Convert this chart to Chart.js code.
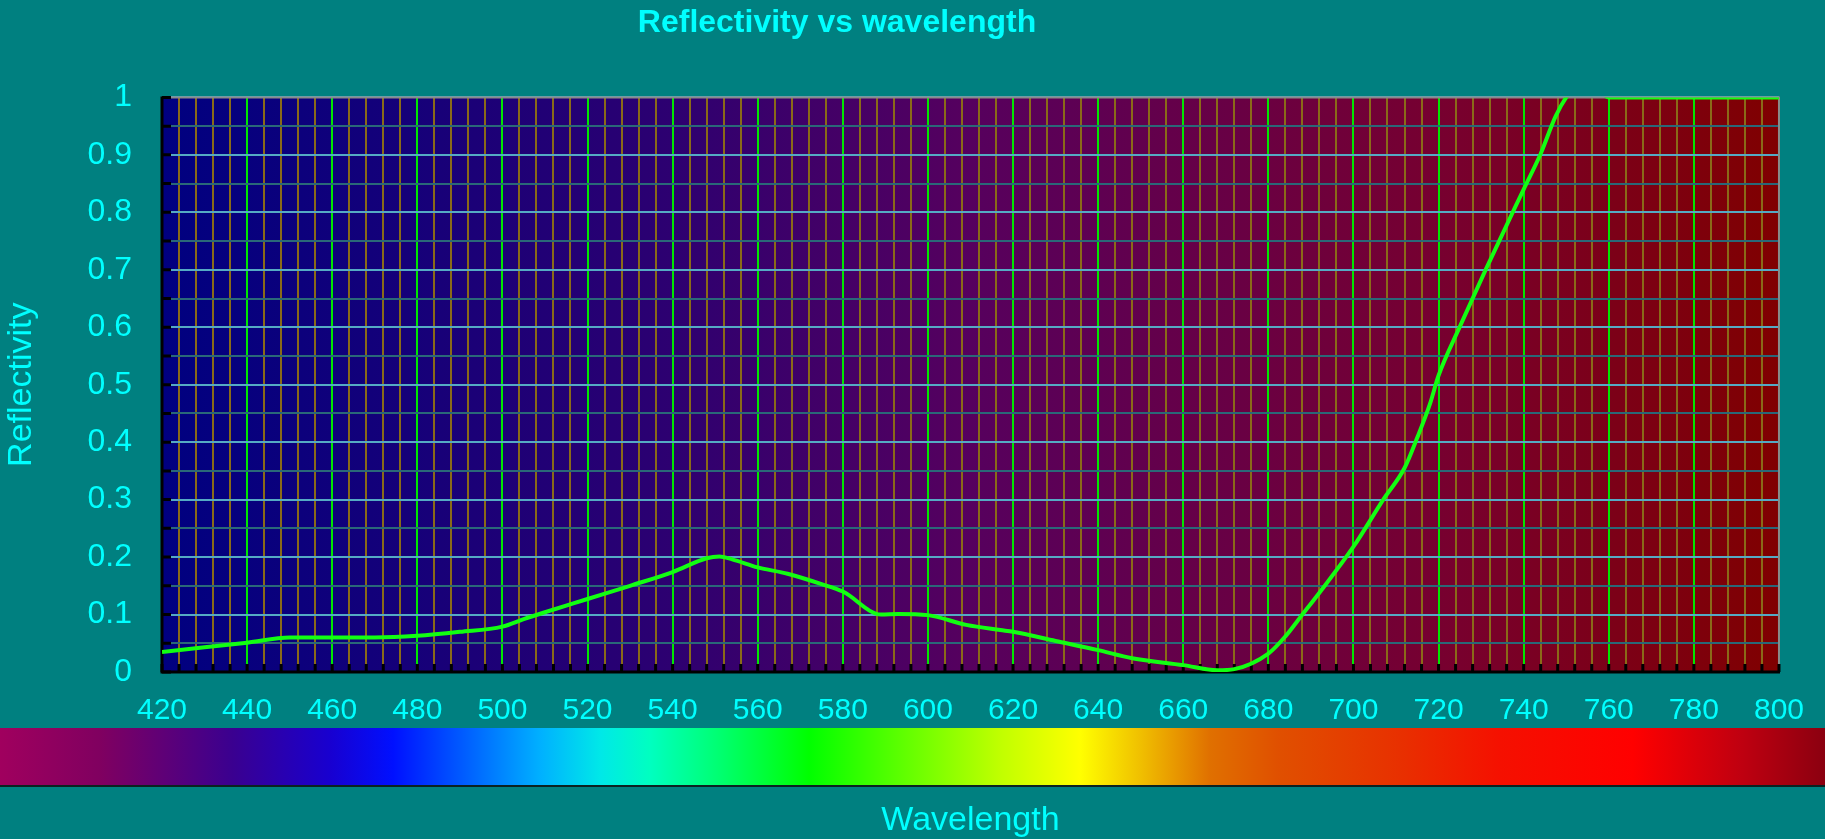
<!DOCTYPE html>
<html>
<head>
<meta charset="utf-8">
<script src="https://cdn.jsdelivr.net/npm/chart.js@4.4.1/dist/chart.umd.min.js"></script>
<style>
html,body{margin:0;padding:0;background:#008080;overflow:hidden}
#wrap{position:relative;width:1825px;height:839px}
canvas{display:block}
</style>
</head>
<body>
<div id="wrap"><canvas id="c" width="1825" height="839"></canvas></div>
<script>
// ---- data ----
const wavelengths = [420,430,440,450,460,470,480,490,500,505,510,520,530,540,548,551,554,560,567,575,580,589,593,600,609,617,620,630,640,648,660,668,672,680,684,688,692,700,707,712,715,718,720,725,731,740,744,747.5,750,755,760,780,800];
const reflectivity = [0.035,0.043,0.051,0.060,0.060,0.060,0.063,0.070,0.079,0.092,0.104,0.127,0.150,0.174,0.198,0.201,0.196,0.182,0.171,0.153,0.140,0.100,0.101,0.099,0.082,0.073,0.070,0.054,0.038,0.024,0.012,0.003,0.005,0.032,0.062,0.100,0.138,0.218,0.300,0.355,0.408,0.467,0.516,0.601,0.699,0.840,0.902,0.967,1.0,1.04,1.0,1.0,1.0];
const xLabelValues = [420,440,460,480,500,520,540,560,580,600,620,640,660,680,700,720,740,760,780,800];
const yLabelValues = [0,0.1,0.2,0.3,0.4,0.5,0.6,0.7,0.8,0.9,1];
const xMinorStep = 4;
const yMinorStep = 0.05;
const chartTitle = 'Reflectivity vs wavelength';
const xTitle = 'Wavelength';
const yTitle = 'Reflectivity';

const FONT = "'Liberation Sans', Arial, sans-serif";
const CYAN = '#00ffff';

const plotStops = [[0,'#000080'],[0.3,'#2a0072'],[0.5,'#56005e'],[0.8,'#78002e'],[1,'#800000']];
const spectrumStops = [[0,'#a0005e'],[100,'#800060'],[233,'#3a0090'],[330,'#1800d0'],[393,'#0010ff'],[467,'#0060ff'],[540,'#00b0ff'],[600,'#00e8e8'],[650,'#00ffc0'],[720,'#00ff70'],[809,'#00ff00'],[920,'#70ff00'],[1000,'#c0ff00'],[1080,'#ffff00'],[1140,'#f0c000'],[1210,'#e07000'],[1278,'#e05000'],[1400,'#e83000'],[1500,'#f51000'],[1633,'#ff0000'],[1740,'#c00010'],[1825,'#8b0010']];

const points = wavelengths.map((w,i)=>({x:w,y:reflectivity[i]}));

const decor = {
  id:'decor',
  beforeDraw(chart){
    const {ctx, chartArea:a, width} = chart;
    ctx.save();
    const g = ctx.createLinearGradient(a.left,0,a.right,0);
    plotStops.forEach(s=>g.addColorStop(s[0],s[1]));
    ctx.fillStyle = g;
    ctx.fillRect(a.left,a.top,a.right-a.left,a.bottom-a.top);
    // spectrum band
    const s = ctx.createLinearGradient(0,0,width,0);
    spectrumStops.forEach(p=>s.addColorStop(p[0]/1825,p[1]));
    const top = a.bottom + 56;
    ctx.fillStyle = s;
    ctx.fillRect(0,top,width,58);
    ctx.fillStyle = '#0b2222';
    ctx.fillRect(0,top+57,width,2);
    ctx.restore();
  },
  afterLayout(chart){
    const t = chart.titleBlock;
    if (t) { const shift = 837 - (t.left+t.right)/2; t.left += shift; t.right += shift; }
  },
  beforeDatasetsDraw(chart){
    const {ctx, chartArea:a, scales:{x,y}} = chart;
    ctx.save();
    ctx.strokeStyle = '#8a8a8a'; ctx.lineWidth = 2;
    ctx.beginPath(); ctx.moveTo(a.left,a.top); ctx.lineTo(a.right,a.top); ctx.lineTo(a.right,a.bottom); ctx.stroke();
    ctx.strokeStyle = '#000000'; ctx.lineWidth = 3;
    ctx.beginPath();
    y.ticks.forEach(t=>{ const py = y.getPixelForValue(t.value); ctx.moveTo(a.left, py); ctx.lineTo(a.left+9, py); });
    x.ticks.forEach(t=>{ const px = x.getPixelForValue(t.value); ctx.moveTo(px, a.bottom); ctx.lineTo(px, a.bottom-8); });
    ctx.stroke();
    ctx.lineWidth = 3;
    ctx.beginPath(); ctx.moveTo(a.left,a.top-1); ctx.lineTo(a.left,a.bottom); ctx.lineTo(a.right+1,a.bottom); ctx.stroke();
    ctx.restore();
  }
};

new Chart(document.getElementById('c'), {
  type:'line',
  data:{ datasets:[{ data:points, borderColor:'#12ff12', borderWidth:4, pointRadius:0, cubicInterpolationMode:'monotone', fill:false }] },
  options:{
    responsive:false, animation:false, devicePixelRatio:1,
    layout:{ padding:{ top:0, left:0, right:45, bottom:0 } },
    plugins:{
      legend:{ display:false },
      tooltip:{ enabled:false },
      title:{ display:true, text:chartTitle, color:CYAN, font:{ family:FONT, size:32, weight:'bold', lineHeight:1.2 }, padding:{ top:4, bottom:55 } }
    },
    scales:{
      x:{
        type:'linear', min:420, max:800,
        afterBuildTicks(scale){ const t=[]; for(let v=420; v<=800; v+=xMinorStep) t.push({value:v}); scale.ticks=t; },
        afterFit(scale){ scale.height = 167; },
        ticks:{ autoSkip:false, maxRotation:0, padding:21, color:CYAN, font:{ family:FONT, size:30 },
          callback:(v)=> xLabelValues.includes(v) ? String(v) : '' },
        grid:{ drawTicks:false, lineWidth:2, color:(c)=> (c.tick && xLabelValues.includes(c.tick.value)) ? '#00e600' : '#8a6a18' },
        border:{ display:false },
        title:{ display:true, text:xTitle, color:CYAN, font:{ family:FONT, size:34, weight:'normal', lineHeight:1.2 }, padding:{ top:0, bottom:-2 } }
      },
      y:{
        type:'linear', min:0, max:1,
        afterBuildTicks(scale){ const t=[]; for(let i=0;i<=20;i++) t.push({value:Math.round(i*yMinorStep*100)/100}); scale.ticks=t; },
        afterFit(scale){ scale.width = 162; },
        ticks:{ autoSkip:false, padding:30, color:CYAN, font:{ family:FONT, size:32 },
          callback:(v)=> { const l = yLabelValues.find(q=>Math.abs(q-v)<1e-6); return l===undefined ? '' : String(l); } },
        grid:{ drawTicks:false, lineWidth:2, color:(c)=> (c.index % 2 === 0) ? '#55aac4' : '#2a6878' },
        border:{ display:false },
        title:{ display:true, text:yTitle, color:CYAN, font:{ family:FONT, size:34, weight:'normal', lineHeight:1.2 }, padding:{ top:1, bottom:0 } }
      }
    }
  },
  plugins:[decor]
});
</script>
</body>
</html>
